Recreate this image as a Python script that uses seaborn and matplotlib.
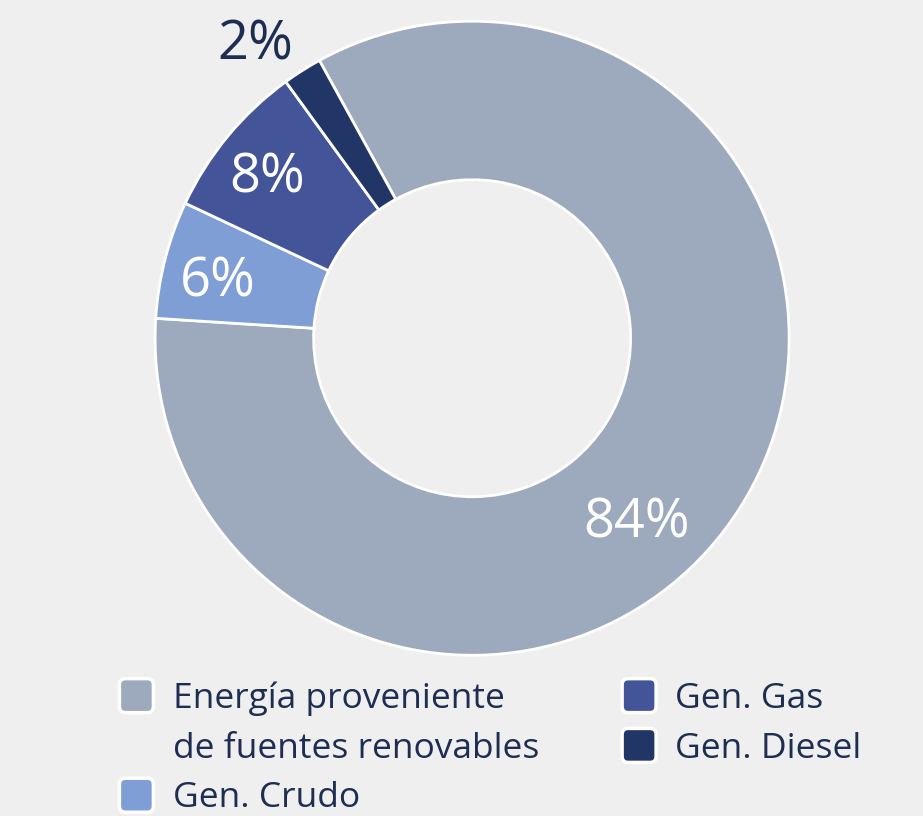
import numpy as np
import matplotlib.pyplot as plt
import matplotlib.patches as mpatches
from matplotlib.legend_handler import HandlerPatch
import seaborn as sns

# datos
categorias = ["Energía proveniente\nde fuentes renovables", "Gen. Crudo", "Gen. Gas", "Gen. Diesel"]
valores = [84, 6, 8, 2]
etiquetas = ["84%", "6%", "8%", "2%"]
colores = ["#9DA9BC", "#7F9ED6", "#445499", "#213566"]

fondo = "#EFEFEF"
texto_oscuro = "#1E2E52"

sns.set_theme(style="white", rc={"figure.facecolor": fondo, "axes.facecolor": fondo})
plt.rcParams["font.family"] = ["Open Sans", "DejaVu Sans"]

fig = plt.figure(figsize=(9.23, 8.16), dpi=100)
ax = fig.add_axes([0.168, 0.197, 0.687, 0.777])

total = sum(valores)
inicio = 90 + 28.8
wedges, _ = ax.pie(valores, colors=colores, startangle=inicio, counterclock=False,
                   radius=1, wedgeprops=dict(width=0.5, edgecolor="white", linewidth=2))

# posiciones de etiquetas (desplazamiento angular, radio)
ajustes = [(-16, 0.78), (2, 0.82), (1.5, 0.82), (4, 1.15)]
acum = 0
for v, lab, (dang, r), w in zip(valores, etiquetas, ajustes, wedges):
    mid = inicio - (acum + v / 2) / total * 360 + dang
    acum += v
    color = texto_oscuro if r > 1 else "white"
    ax.text(r * np.cos(np.radians(mid)), r * np.sin(np.radians(mid)), lab,
            ha="center", va="center", fontsize=39, color=color)

ax.set_xlim(-1, 1)
ax.set_ylim(-1, 1)
ax.set_aspect("equal")
ax.axis("off")


def caja_redondeada(legend, orig_handle, xdescent, ydescent, width, height, fontsize):
    s = 34 * 72 / 100
    return mpatches.FancyBboxPatch((-xdescent + (width - s) / 2, -ydescent + (height - s) / 2), s, s,
                                   boxstyle="round,pad=0,rounding_size=%f" % (s * 0.18))


# la etiqueta larga va en dos filas; la segunda lleva un marcador invisible
handles = []
textos = []
for c, cat in zip(colores, categorias):
    lineas = cat.split("\n")
    handles.append(mpatches.Patch(facecolor=c, edgecolor="white", linewidth=2.5))
    textos.append(lineas[0])
    for extra in lineas[1:]:
        handles.append(mpatches.Patch(facecolor="none", edgecolor="none"))
        textos.append(extra)

leg = fig.legend(handles, textos, loc="upper left", bbox_to_anchor=(0.095, 0.206),
                 ncol=2, frameon=False, fontsize=25.5, labelcolor=texto_oscuro,
                 handlelength=0.95, handleheight=1.0, handletextpad=0.55, columnspacing=2.35,
                 labelspacing=0.39,
                 handler_map={mpatches.Patch: HandlerPatch(patch_func=caja_redondeada)})

fig.savefig("out.png", dpi=100, facecolor=fondo)
